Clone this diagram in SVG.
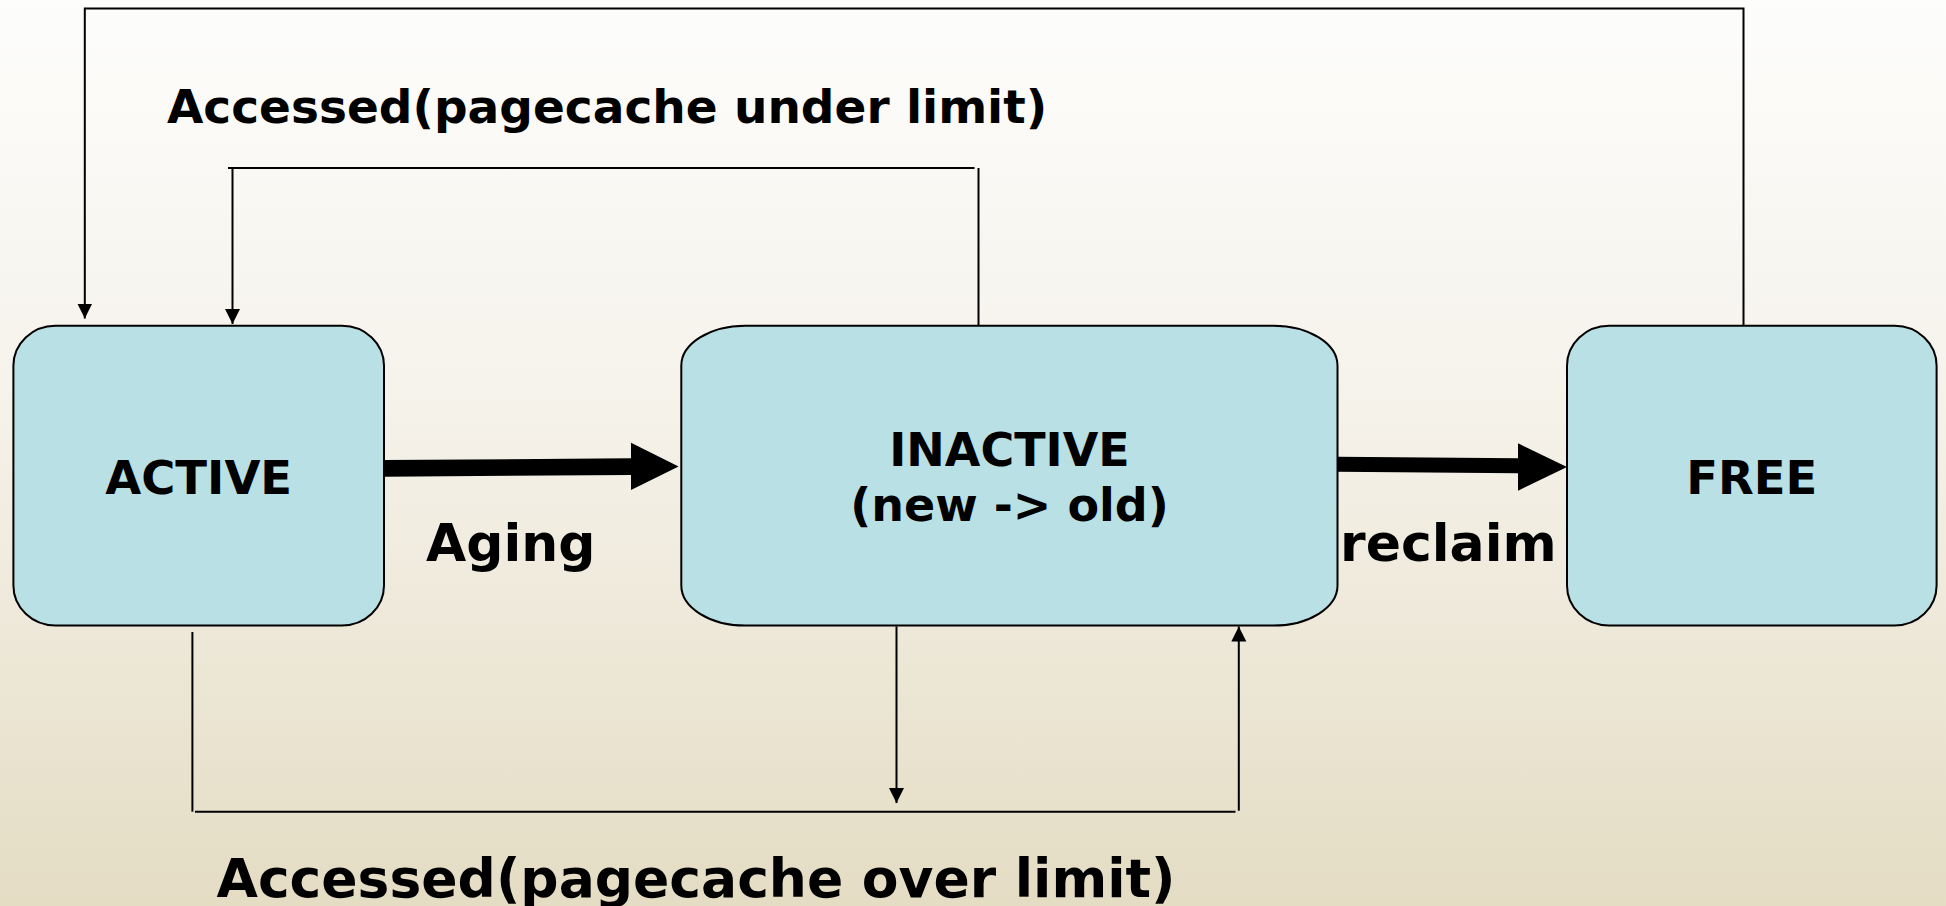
<svg xmlns="http://www.w3.org/2000/svg" width="1946" height="906" viewBox="0 0 1946 906">
  <defs>
    <linearGradient id="bg" x1="0" y1="0" x2="0" y2="1">
      <stop offset="0" stop-color="#fdfdfc"/>
      <stop offset="0.45" stop-color="#f5f2ea"/>
      <stop offset="1" stop-color="#e4dcc3"/>
    </linearGradient>
    <marker id="tri" markerUnits="userSpaceOnUse" markerWidth="16" markerHeight="16" viewBox="0 0 16 16" refX="15" refY="7.5" orient="auto">
      <path d="M0,0 L15,7.5 L0,15 Z" fill="#000"/>
    </marker>
  </defs>
  <style>
    .state { fill: #b9e0e4; stroke: #000; stroke-width: 2; }
    .name { font-family: "DejaVu Sans", "Liberation Sans", sans-serif; font-weight: bold; fill: #000; }
    .wire { fill: none; stroke: #000; stroke-width: 2; }
    .fat { fill: #000; stroke: none; }
  </style>

  <rect x="0" y="0" width="1946" height="906" fill="url(#bg)"/>

  <g id="connectors">
    <!-- FREE back to ACTIVE over the top -->
    <path class="wire" d="M1743.5,326 V8.5 H84.8 V318.5" marker-end="url(#tri)"/>
    <!-- INACTIVE back to ACTIVE while the page cache is under its limit -->
    <path class="wire" d="M978.5,330 V168"/>
    <path class="wire" d="M228,168 H974.5"/>
    <path class="wire" d="M232.5,168 V324" marker-end="url(#tri)"/>
    <!-- ACTIVE into INACTIVE while the page cache is over its limit -->
    <path class="wire" d="M192.4,632 V811.7"/>
    <path class="wire" d="M195,811.7 H1235.5"/>
    <path class="wire" d="M1238.8,810.7 V626.5" marker-end="url(#tri)"/>
    <path class="wire" d="M896.5,626.5 V803" marker-end="url(#tri)"/>
    <!-- aging and reclaim block arrows -->
    <path class="fat" d="M384,460 L631,458.3 L631,442.7 L678.6,466.4 L631,490 L631,475 L384,476.7 Z"/>
    <path class="fat" d="M1337.5,456.7 L1518,458.3 L1518,443.3 L1567,467 L1518,490.7 L1518,473.3 L1337.5,471.7 Z"/>
  </g>

  <g id="active">
    <rect class="state" x="13.4" y="325.7" width="370.6" height="299.8" rx="42" ry="40"/>
    <text class="name" x="198.7" y="494" font-size="46.5" text-anchor="middle">ACTIVE</text>
  </g>

  <g id="inactive">
    <rect class="state" x="681.3" y="325.7" width="656.2" height="299.8" rx="64" ry="40"/>
    <text class="name" x="1009.5" y="466" font-size="46" text-anchor="middle">INACTIVE</text>
    <text class="name" x="1009.5" y="521" font-size="46" text-anchor="middle">(new -&gt; old)</text>
  </g>

  <g id="free">
    <rect class="state" x="1567" y="325.7" width="369.6" height="299.8" rx="42" ry="40"/>
    <text class="name" x="1751.7" y="494" font-size="46.5" text-anchor="middle">FREE</text>
  </g>

  <g id="labels">
    <text class="name" x="167" y="123" font-size="47">Accessed(pagecache under limit)</text>
    <text class="name" x="426" y="560.7" font-size="52">Aging</text>
    <text class="name" x="1340" y="560.7" font-size="52">reclaim</text>
    <text class="name" x="216.5" y="896.7" font-size="53.5">Accessed(pagecache over limit)</text>
  </g>
</svg>
